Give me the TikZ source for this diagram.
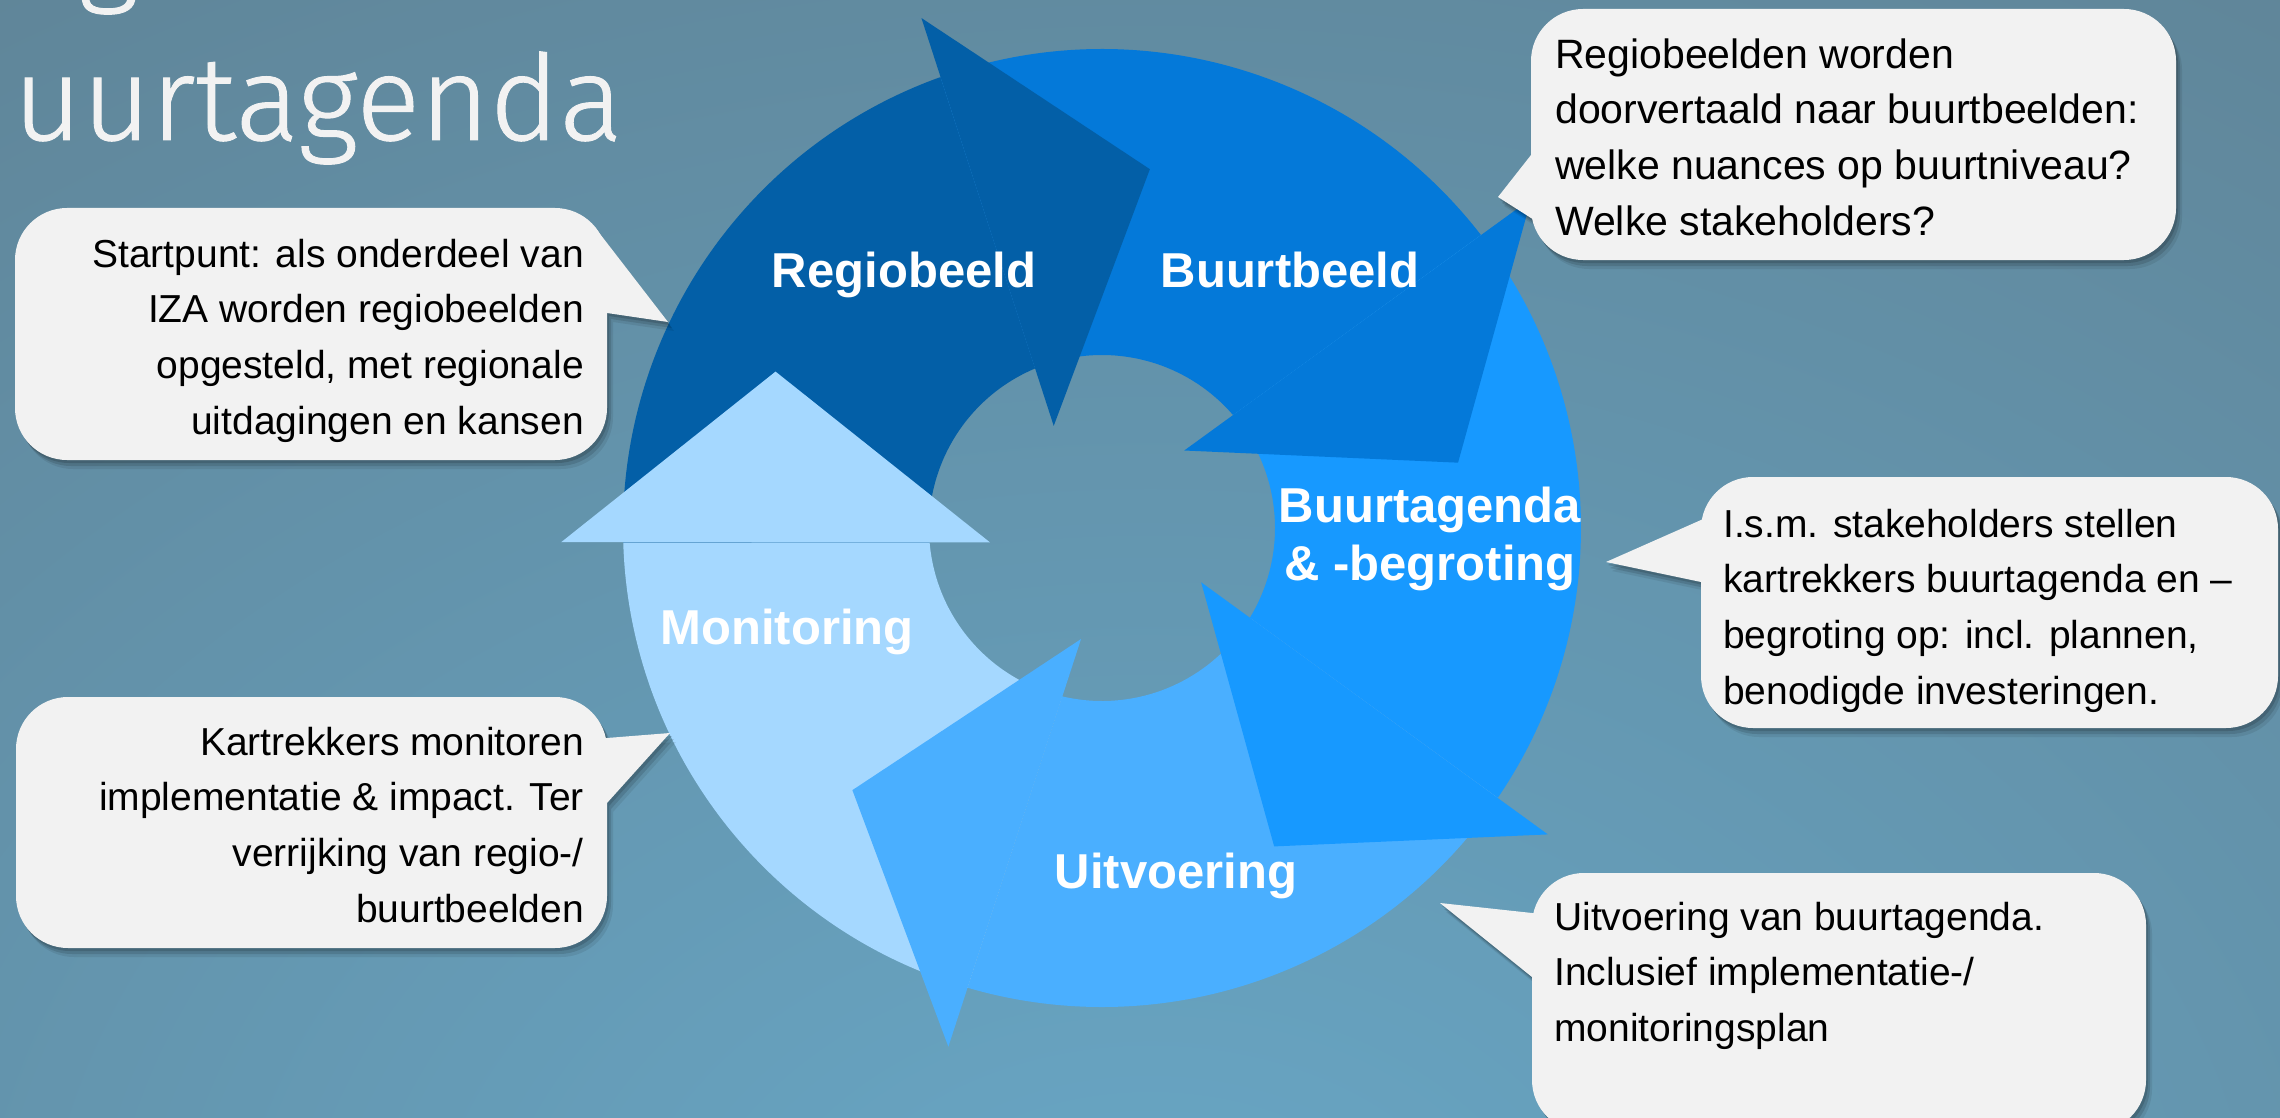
\documentclass[tikz,border=0pt]{standalone}
\usepackage{fontspec}
\setmainfont{Liberation Sans}
\newfontfamily\titlefont[FakeBold=0.8]{Fira Sans Light}
\usetikzlibrary{calc}
\definecolor{bgdark}{HTML}{5E7E8F}
\definecolor{bglight}{HTML}{68A7C6}
\definecolor{cRegio}{HTML}{035FA7}
\definecolor{cBuurt}{HTML}{0479D9}
\definecolor{cAgenda}{HTML}{1799FF}
\definecolor{cUit}{HTML}{4AAFFF}
\definecolor{cMon}{HTML}{A5D8FF}
\definecolor{callfill}{HTML}{F2F2F2}
\definecolor{titlecol}{HTML}{F2F2F2}
% ring segment body: #1 = clockwise offset in degrees, #2 = colour
\newcommand\ringbody[2]{%
  \fill[#2] ({253.71-#1}:479) arc[start angle={253.71-#1}, end angle={181.71-#1}, radius=479]
    -- ({184.74-#1}:173) arc[start angle={184.74-#1}, end angle={256.74-#1}, radius=173] -- cycle;}
\newcommand\ringhead[2]{%
  \fill[#2] ({181.5-#1}:541) -- ({154.4-#1}:362) -- ({187.3-#1}:113) -- cycle;}
% callout: #1=(L,T) #2=(R,B) #3=base1 #4=tip #5=base2
\newcommand\mycallout[5]{%
  \foreach \dx/\dy/\op in {2/3/0.14, 4/6/0.12, 6/9/0.08}{%
    \begin{scope}[transparency group, opacity=\op, xshift=\dx pt, yshift=-\dy pt]
      \fill[black, rounded corners=52pt] #1 rectangle #2;
      \fill[black] ($#4!1.2!#3$) -- #4 -- ($#4!1.2!#5$) -- cycle;
    \end{scope}}
  \fill[callfill, rounded corners=52pt] #1 rectangle #2;
  \fill[callfill] ($#4!1.2!#3$) -- #4 -- ($#4!1.2!#5$) -- cycle;}
\tikzset{
  lbl/.style={text=white, font=\fontsize{49}{58}\selectfont\bfseries, inner sep=0pt},
  ctext/.style={text=black, font=\fontsize{39}{55.7}\selectfont, inner sep=0pt},
  ctextb/.style={text=black, font=\fontsize{41}{55.7}\selectfont, inner sep=0pt},
  ttl/.style={text=titlecol, font=\titlefont\fontsize{119}{130}\selectfont, inner sep=0pt},
}
\begin{document}
\begin{tikzpicture}[x=1pt, y=-1pt]
\useasboundingbox (0,0) rectangle (2280,1118);
\clip (0,0) rectangle (2280,1118);
% background
\fill[bgdark] (0,0) rectangle (2280,1118);
\shade[inner color=bglight, outer color=bgdark] (1150,1300) ellipse (2600 and 1900);
% title
\node[ttl, anchor=base west] (titleg) at (78,-10) {g};
\node[ttl, anchor=base west] (title) at (13,140) {uurtagenda};
% ring
\begin{scope}[shift={(1102,528)}, yscale=-1]
  \ringbody{0}{cMon}
  \ringbody{72}{cRegio}
  \ringbody{144}{cBuurt}
  \ringbody{216}{cAgenda}
  \ringbody{288}{cUit}
  \ringhead{0}{cMon}
  \ringhead{72}{cRegio}
  \ringhead{144}{cBuurt}
  \ringhead{216}{cAgenda}
  \ringhead{288}{cUit}
\end{scope}
% ring labels
\node[lbl, anchor=base] (lRegio) at (904,287) {Regiobeeld};
\node[lbl, anchor=base] (lBuurt) at (1290,287) {Buurtbeeld};
\node[lbl, anchor=north, align=center] (lAgenda) at (1430,484) {\rule{0pt}{38pt}Buurtagenda\\\& -begroting};
\node[lbl, anchor=base] (lMon) at (787,644) {Monitoring};
\node[lbl, anchor=base] (lUit) at (1176,888) {Uitvoering};
% callouts
\mycallout{(15,208)}{(607,460)}{(607,243)}{(668,322)}{(607,313)}
\mycallout{(16,697)}{(607,948)}{(607,738)}{(670,733)}{(607,803)}
\mycallout{(1531,9)}{(2176,260)}{(1531,155)}{(1498,197)}{(1531,218)}
\mycallout{(1701,477)}{(2278,728)}{(1701,520)}{(1606,562)}{(1701,582)}
\mycallout{(1532,873)}{(2146,1132)}{(1532,913)}{(1440,903)}{(1532,977)}
\node[ctext, anchor=north east, align=right] (t1) at (584,235) {\rule{0pt}{32pt}Startpunt: als onderdeel van\\IZA worden regiobeelden\\opgesteld, met regionale\\uitdagingen en kansen};
\node[ctext, anchor=north east, align=right] (t2) at (584,723) {\rule{0pt}{32pt}Kartrekkers monitoren\\implementatie \& impact. Ter\\verrijking van regio-/\\buurtbeelden};
\node[ctextb, anchor=north west, align=left] (t3) at (1555,36) {\rule{0pt}{32pt}Regiobeelden worden\\doorvertaald naar buurtbeelden:\\welke nuances op buurtniveau?\\Welke stakeholders?};
\node[ctext, anchor=north west, align=left] (t4) at (1723,505) {\rule{0pt}{32pt}I.s.m. stakeholders stellen\\kartrekkers buurtagenda en –\\begroting op: incl. plannen,\\benodigde investeringen.};
\node[ctext, anchor=north west, align=left] (t5) at (1554,898) {\rule{0pt}{32pt}Uitvoering van buurtagenda.\\Inclusief implementatie-/\\monitoringsplan};
\end{tikzpicture}
\end{document}
